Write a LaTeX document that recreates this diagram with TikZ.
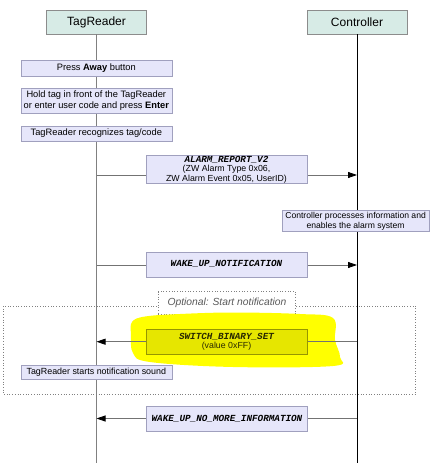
\documentclass[tikz,border=0pt]{standalone}
\usepackage{fontspec}
\setmainfont{Liberation Sans}
\newfontfamily\msgfont{Liberation Mono}
\usetikzlibrary{arrows.meta}
\definecolor{headfill}{RGB}{215,235,230}
\definecolor{headdraw}{RGB}{140,140,140}
\definecolor{actfill}{RGB}{230,230,250}
\definecolor{actdraw}{RGB}{160,160,190}
\definecolor{hlfill}{RGB}{230,230,0}
\definecolor{hldraw}{RGB}{150,150,0}
\definecolor{hltext}{RGB}{40,40,0}
\definecolor{marker}{RGB}{255,255,0}
\tikzset{
  headbox/.style={draw=headdraw, fill=headfill, inner sep=0pt, outer sep=0pt,
    minimum width=100pt, minimum height=24pt, font=\fontsize{12}{14}\selectfont},
  actbox/.style={draw=actdraw, fill=actfill, inner sep=0pt, outer sep=0pt, align=center,
    minimum width=151pt, font=\fontsize{9.3}{11.5}\selectfont},
  msgbox/.style={draw=actdraw, fill=actfill, inner sep=0pt, outer sep=0pt, align=center,
    minimum width=161pt, font=\fontsize{8.8}{9.5}\selectfont},
  hlbox/.style={msgbox, draw=hldraw, fill=hlfill, text=hltext},
  lifeTR/.style={draw=black!50, line width=0.9pt},
  lifeCT/.style={draw=black, line width=0.9pt},
  msgline/.style={draw=black!55, line width=0.8pt, -{Triangle[length=9pt,width=6pt,color=black]}},
  dotbox/.style={draw=black!50, dotted, line width=0.7pt},
}
\newcommand{\mname}[1]{{\msgfont\bfseries\itshape\fontsize{9.3}{10}\selectfont #1}}
\begin{document}
\begin{tikzpicture}[x=1pt,y=-1pt]
\useasboundingbox (0,0) rectangle (436,463);

% lifeline ends
\coordinate (trB) at (96.5,463);
\coordinate (ctB) at (357,463);

% headers
\node[headbox] (tr) at (96.5,22) {TagReader};
\node[headbox] (ct) at (357,22) {Controller};
\draw[lifeTR] (tr.south) -- (trB);
\draw[lifeCT] (ct.south) -- (ctB);

% optional region
\draw[dotbox] (3.5,306) rectangle (415.5,394.5);
\node[dotbox, fill=white, inner sep=0pt, minimum width=137.5pt, minimum height=22.5pt,
  text=black!65, font=\fontsize{10.3}{12}\selectfont\itshape] (opt) at (227,303) {Optional: Start notification};

% actions on TagReader
\node[actbox, minimum height=15.5pt] (a1) at (96.3,68.3) {Press \textbf{Away} button};
\node[actbox, minimum height=25pt] (a2) at (96.3,100.5) {Hold tag in front of the TagReader\\or enter user code and press \textbf{Enter}};
\node[actbox, minimum height=15pt] (a3) at (96.3,133.5) {TagReader recognizes tag/code};

% ALARM_REPORT_V2
\coordinate (m1a) at (96.5,175);
\coordinate (m1b) at (357,175);
\draw[msgline] (m1a) -- (m1b);
\node[msgbox, minimum height=28pt] (m1) at (226.5,169.4) {\mname{ALARM\_REPORT\_V2}\\(ZW Alarm Type 0x06,\\ZW Alarm Event 0x05, UserID)};

% Controller processes
\node[actbox, minimum width=147pt, minimum height=21.7pt, font=\fontsize{8.6}{10}\selectfont] (c1) at (355.6,220.8) {Controller processes information and\\enables the alarm system};

% WAKE_UP_NOTIFICATION
\coordinate (m2a) at (96.5,265);
\coordinate (m2b) at (357,265);
\draw[msgline] (m2a) -- (m2b);
\node[msgbox, minimum height=25pt] (m2) at (226.5,264.2) {\mname{WAKE\_UP\_NOTIFICATION}};

% marker highlight
\fill[marker] plot[smooth cycle, tension=0.6] coordinates {(132,322) (145,316.5) (180,314) (233,312.5) (300,314) (333,318) (335,340) (340,357) (333,366) (233,367) (150,362) (133,353) (131,335)};

% SWITCH_BINARY_SET
\coordinate (m3a) at (357,341.7);
\coordinate (m3b) at (96.5,341.7);
\draw[msgline, draw=black!55] (m3a) -- (m3b);
\node[hlbox, minimum height=24.7pt] (m3) at (226.5,341.7) {\mname{SWITCH\_BINARY\_SET}\\(value 0xFF)};

% TagReader starts notification sound
\node[actbox, minimum height=14.5pt, font=\fontsize{8.9}{10}\selectfont] (a4) at (96.3,372.2) {TagReader starts notification sound};

% WAKE_UP_NO_MORE_INFORMATION
\coordinate (m4a) at (357,418.5);
\coordinate (m4b) at (96.5,418.5);
\draw[msgline] (m4a) -- (m4b);
\node[msgbox, minimum height=24.3pt] (m4) at (227,418.8) {\mname{WAKE\_UP\_NO\_MORE\_INFORMATION}};
\end{tikzpicture}
\end{document}
